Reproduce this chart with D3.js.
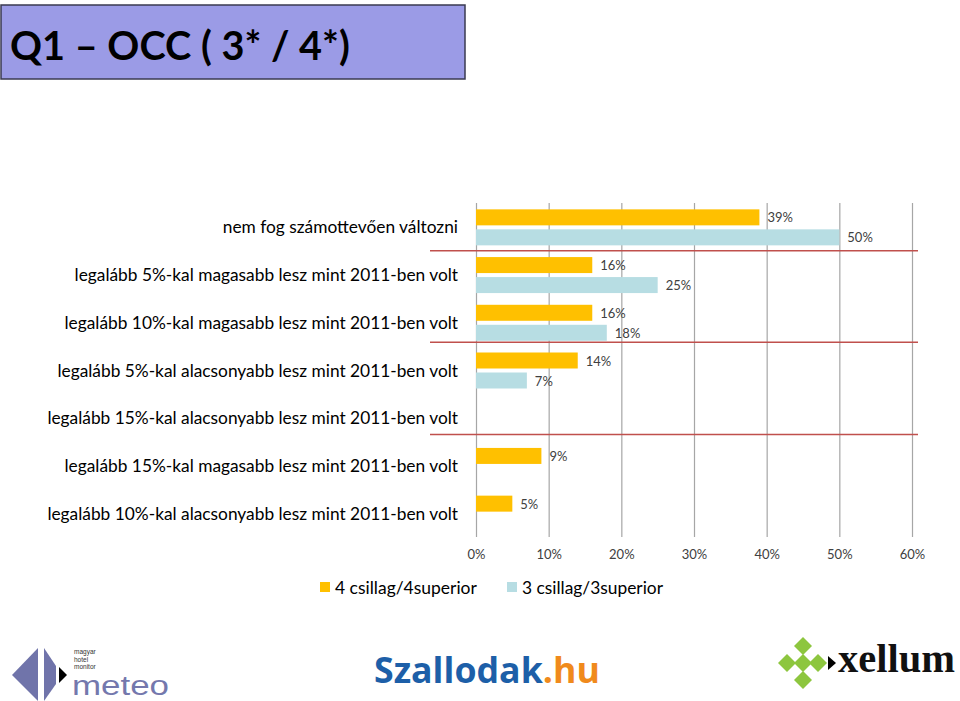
<!DOCTYPE html>
<html>
<head>
<meta charset="utf-8">
<script src="https://cdn.jsdelivr.net/npm/d3@7"></script>
<style>
  html, body { margin: 0; padding: 0; background: #fff; }
  svg { display: block; }
</style>
</head>
<body>
<svg id="chart" width="960" height="701" font-family="Lato, 'Open Sans', sans-serif"></svg>
<script>
const title = "Q1 – OCC ( 3* / 4*)";
const categories = [
  "nem fog számottevően változni",
  "legalább 5%-kal magasabb lesz mint 2011-ben volt",
  "legalább 10%-kal magasabb lesz mint 2011-ben volt",
  "legalább 5%-kal alacsonyabb lesz mint 2011-ben volt",
  "legalább 15%-kal alacsonyabb lesz mint 2011-ben volt",
  "legalább 15%-kal magasabb lesz mint 2011-ben volt",
  "legalább 10%-kal alacsonyabb lesz mint 2011-ben volt"
];
const seriesNames = ["4 csillag/4superior", "3 csillag/3superior"];
const values4 = [39, 16, 16, 14, null, 9, 5];
const values3 = [50, 25, 18, 7, null, null, null];
const tickValues = [0, 10, 20, 30, 40, 50, 60];
// separators drawn between rows (fractional row index positions)
const separators = [1.0, 2.92, 4.85];

const colors = ["#ffc000", "#b7dde3"];

const svg = d3.select("#chart");

function fitFont(sel, targetWidth, base) {
  const w = sel.node().getComputedTextLength();
  sel.style("font-size", (base * targetWidth / w) + "px");
}

// Title box
svg.append("rect").attr("x", 1).attr("y", 5).attr("width", 464).attr("height", 74)
  .attr("fill", "#9b9be6").attr("stroke", "#3a3a50").attr("stroke-width", 1.5);
const tt = svg.append("text").attr("x", 10).attr("y", 60).text(title)
  .style("font-size", "40px").style("font-weight", "bold").attr("fill", "#000");
fitFont(tt, 340, 40);

const x = d3.scaleLinear().domain([0, 60]).range([476, 912]);
const y = d3.scaleBand().domain(categories).range([203, 537]);
const idx = d3.scaleLinear().domain([0, categories.length]).range([203, 537]);

// grid / axis
const axis = d3.axisBottom(x).tickValues(tickValues).tickFormat(d => d + "%")
  .tickSizeInner(-(537 - 203)).tickSizeOuter(0).tickPadding(13);
const gAxis = svg.append("g").attr("transform", "translate(0,537)").call(axis);
gAxis.select(".domain").remove();
gAxis.selectAll(".tick line").attr("stroke", "#a6a6a6").attr("stroke-width", 1.2);
gAxis.selectAll(".tick text").style("font-size", "13px").attr("fill", "#404040")
  .style("font-family", "Lato, 'Open Sans', sans-serif");

// red separators
svg.append("g").selectAll("line").data(separators).join("line")
  .attr("x1", 430).attr("x2", 918)
  .attr("y1", d => idx(d)).attr("y2", d => idx(d))
  .attr("stroke", "#c0504d").attr("stroke-width", 1.5);

// bars
const barH = 16;
const rows = categories.map((c, i) => ({ c, v4: values4[i], v3: values3[i] }));
const gBars = svg.append("g");
rows.forEach(r => {
  const cy = y(r.c) + y.bandwidth() / 2;
  [[r.v4, cy - 18, 0], [r.v3, cy + 2, 1]].forEach(([v, top, s]) => {
    if (v == null) return;
    gBars.append("rect").attr("x", x(0)).attr("y", top + 0.5)
      .attr("width", x(v) - x(0)).attr("height", barH).attr("fill", colors[s]);
    gBars.append("text").attr("x", x(v) + 8).attr("y", top + 0.5 + barH / 2)
      .attr("dominant-baseline", "central").style("font-size", "13px")
      .attr("fill", "#404040").text(v + "%");
  });
});

// category labels
const catText = svg.append("g").selectAll("text").data(categories).join("text")
  .attr("x", 458).attr("y", d => y(d) + y.bandwidth() / 2)
  .attr("text-anchor", "end").attr("dominant-baseline", "central")
  .style("font-size", "16px").attr("fill", "#000").text(d => d);
{
  const w = d3.max(catText.nodes(), n => n.getComputedTextLength());
  catText.style("font-size", (16 * 411 / w) + "px");
}

// legend
const legend = svg.append("g");
const legX = [320, 507];
seriesNames.forEach((n, i) => {
  legend.append("rect").attr("x", legX[i]).attr("y", 582).attr("width", 10).attr("height", 10).attr("fill", colors[i]);
  const t = legend.append("text").attr("x", legX[i] + 15).attr("y", 587).attr("dominant-baseline", "central")
    .style("font-size", "16px").attr("fill", "#000").text(n);
  fitFont(t, i === 0 ? 142 : 141, 16);
});

// ---- logos ----
// meteo
const m = svg.append("g");
m.append("path").attr("d", "M12,675 L38,648 L38,701 Z").attr("fill", "#7074aa");
m.append("path").attr("d", "M44,648 L56,666 L56,684 L44,701 Z").attr("fill", "#7074aa");
m.append("path").attr("d", "M59,667 L67,675 L59,683 Z").attr("fill", "#000");
["magyar", "hotel", "monitor"].forEach((t, i) => {
  m.append("text").attr("x", 74).attr("y", 654 + i * 7.5).style("font-size", "6.5px")
    .style("font-family", "'Liberation Sans', sans-serif").attr("fill", "#333").text(t);
});
m.append("text").attr("x", 72).attr("y", 695).style("font-size", "27px")
  .style("font-family", "'Liberation Sans', sans-serif")
  .attr("textLength", 97).attr("lengthAdjust", "spacingAndGlyphs")
  .attr("fill", "#7478ad").text("meteo");

// Szallodak.hu
const s = svg.append("text").attr("x", 374).attr("y", 683).style("font-size", "34px")
  .style("font-weight", "bold").style("font-family", "'Open Sans', sans-serif");
s.append("tspan").attr("fill", "#1d5fa8").text("Szallodak");
s.append("tspan").attr("fill", "#f08a1c").text(".hu");
fitFont(s, 226, 34);

// xellum
const xg = svg.append("g");
const dia = [[803, 646], [787, 663], [803, 663], [818, 663], [803, 680]];
xg.selectAll("path").data(dia).join("path")
  .attr("d", d => `M${d[0]},${d[1] - 9} L${d[0] + 9},${d[1]} L${d[0]},${d[1] + 9} L${d[0] - 9},${d[1]} Z`)
  .attr("fill", "#8dc63f");
xg.append("path").attr("d", "M828,656 L836,663 L828,670 Z").attr("fill", "#000");
const xt = xg.append("text").attr("x", 838).attr("y", 672).style("font-size", "40px").style("font-weight", "bold")
  .style("font-family", "'Liberation Serif', 'DejaVu Serif', serif").attr("fill", "#111").text("xellum");
fitFont(xt, 117, 40);
</script>
</body>
</html>
